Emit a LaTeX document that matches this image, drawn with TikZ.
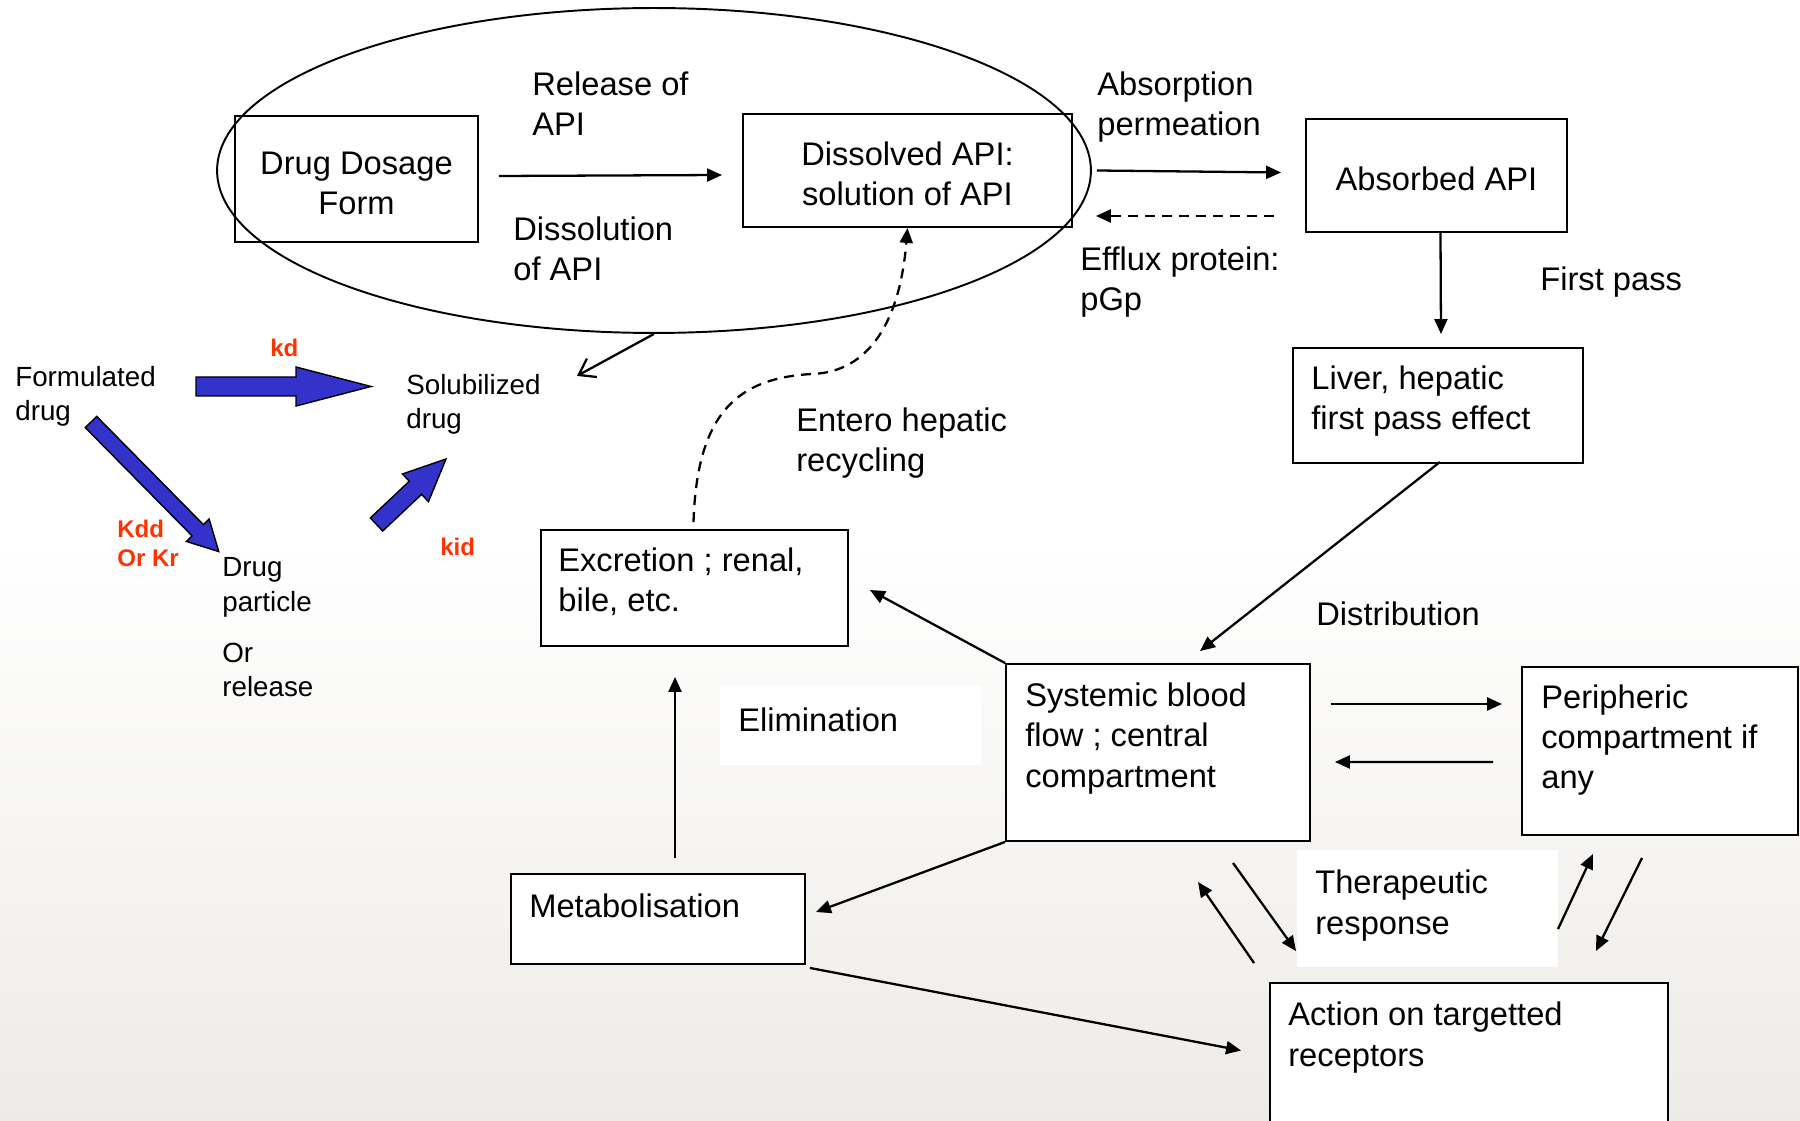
\documentclass[tikz,border=0pt]{standalone}
\usepackage{fontspec}
\setmainfont{Liberation Sans}
\usetikzlibrary{arrows.meta,calc,shapes.geometric}

\definecolor{ratered}{HTML}{FF3300}
\definecolor{arrowblue}{HTML}{3333CC}
\definecolor{bggray}{HTML}{EDEBE7}

\newcommand{\boxfont}{\fontsize{18.6}{22.8}\selectfont}
\newcommand{\smallfont}{\fontsize{15.8}{19.6}\selectfont}

% multi-line labels are placed at the baseline of their last line
\tikzset{
  box/.style={draw, line width=1.1pt, fill=white, inner sep=0pt, font=\boxfont, align=center},
  lbl/.style={font=\boxfont, align=left, inner sep=0pt, anchor=base west},
  smalllbl/.style={font=\smallfont, align=left, inner sep=0pt, anchor=base west},
  rate/.style={font=\fontsize{13.7}{17}\selectfont\bfseries, text=ratered, align=left, inner sep=0pt, anchor=base west},
  link/.style={line width=1.3pt, -{Triangle[length=0.3cm,width=0.26cm]}},
  fat/.style={fill=arrowblue, draw=black, line width=0.8pt},
}

\begin{document}
\begin{tikzpicture}[x=0.02cm, y=-0.02cm]
\useasboundingbox (0,0) rectangle (1800,1121);

% background
\shade[top color=white, bottom color=bggray] (0,540) rectangle (1800,1121);
\fill[white] (720,686) rectangle (981,765);
\fill[white] (1297,850) rectangle (1558,967);

% boxes
\node[box, minimum width=4.86cm, minimum height=2.52cm, text height=1.41cm, text depth=0cm] (dos) at (356.5,179) {Drug Dosage\\Form};
\node[box, minimum width=6.58cm, minimum height=2.26cm, text height=1.41cm, text depth=0cm] (dis) at (907.5,170.5) {Dissolved API:\\solution of API};
\node[box, minimum width=5.22cm, minimum height=2.26cm, text height=0.61cm, text depth=0cm] (abs) at (1436.5,175.5) {Absorbed API};
\node[box, minimum width=5.8cm, minimum height=2.3cm] (liver) at (1438,405.5) {};
\node[box, minimum width=6.14cm, minimum height=2.32cm] (exc) at (694.5,588) {};
\node[box, minimum width=6.08cm, minimum height=3.54cm] (sys) at (1158,752.5) {};
\node[box, minimum width=5.52cm, minimum height=3.36cm] (per) at (1660,751) {};
\node[box, minimum width=5.88cm, minimum height=1.8cm] (met) at (658,919) {};
\node[box, minimum width=7.96cm, minimum height=3.14cm] (act) at (1469,1061.5) {};

\node[draw, ellipse, line width=1.1pt, minimum width=17.48cm, minimum height=6.5cm] (cell) at (654,170.5) {};

% box texts
\node[lbl] (liver-t) at (1311,430) {Liver, hepatic\\first pass effect};
\node[lbl] (exc-t) at (558,612) {Excretion ; renal,\\bile, etc.};
\node[lbl] (sys-t) at (1025,787) {Systemic blood\\flow ; central\\compartment};
\node[lbl] (per-t) at (1541,789) {Peripheric\\compartment if\\any};
\node[lbl] (met-t) at (529,917) {Metabolisation};
\node[lbl] (act-t) at (1288,1066) {Action on targetted\\receptors};

% labels
\node[lbl] (release) at (532,136) {Release of\\API};
\node[lbl] (dissol) at (513,281) {Dissolution\\of API};
\node[lbl] (absorp) at (1097,136) {Absorption\\permeation};
\node[lbl] (efflux) at (1080,311) {Efflux protein:\\pGp};
\node[lbl] (firstpass) at (1540,291) {First pass};
\node[lbl] (distrib) at (1316,626) {Distribution};
\node[lbl] (elim) at (738,732) {Elimination};
\node[lbl] (entero) at (796,472) {Entero hepatic\\recycling};
\node[lbl] (therap) at (1315,934) {Therapeutic\\response};

% connectors
\draw[link] ($(dos.east)+(20,-3)$) -- ($(dis.west)+(-20,4.5)$);
\draw[link] ($(dis.east)+(24,0)$) -- ($(abs.west)+(-24,-3)$);
\draw[link, dash pattern=on 5.7pt off 4pt] ($(abs.west)+(-31,40.5)$) -- ($(dis.east)+(23,45.5)$);
\draw[link] ($(abs.south)+(4,0)$) -- ($(liver.north)+(3,-13)$);
\draw[link] ($(liver.south)+(2,-2)$) -- ($(sys.north)+(42,-12)$);
\draw[link] (sys.north west) -- ($(exc.east)+(21,2)$);
\draw[link] ($(met.north)+(17,-15)$) -- ($(exc.south)+(-19.5,30)$);
\draw[link] (sys.south west) -- ($(met.east)+(10,-7)$);
\draw[link] ($(met.south east)+(4,3)$) -- ($(act.west)+(-28,-11)$);
\draw[link] ($(sys.east)+(20,-48.5)$) -- ($(per.west)+(-19,-47)$);
\draw[link] ($(per.west)+(-28,11)$) -- ($(sys.east)+(24,9.5)$);
\draw[link] ($(sys.south)+(75,21)$) -- ($(act.north west)+(27,-31)$);
\draw[link] ($(act.north west)+(-15,-19)$) -- ($(sys.south)+(40,40)$);
\draw[link] ($(act.north)+(89,-53)$) -- ($(per.south)+(-67,18)$);
\draw[link] ($(per.south)+(-18,22)$) -- ($(act.north east)+(-73,-31)$);
\draw[line width=1.3pt, -{Straight Barb[length=0.3cm,width=0.42cm]}] (cell.south) -- ($(cell.south)+(-77,42)$);
\draw[link, dash pattern=on 5.7pt off 4pt] ($(exc.north)+(-1,-7)$) .. controls (697,410) and (740,378) .. (812,374)
  .. controls (870,372) and (900,320) .. (dis.south);

% dissolution kinetics
\node[smalllbl] (formul) at (15,421) {Formulated\\drug};
\node[smalllbl] (solub) at (406,429) {Solubilized\\drug};
\node[smalllbl] (particle) at (222,697) {Drug\\particle\\[0.34cm]Or\\release};
\node[rate] (kd) at (270,357) {kd};
\node[rate] (kdd) at (117,567) {Kdd\\Or Kr};
\node[rate] (kid) at (440,556) {kid};

\begin{scope}[shift={(196,386.5)}]
  \draw[fat] (0,-9.5) -- (100,-9.5) -- (100,-19.5) -- (175,0) -- (100,19.5) -- (100,9.5) -- (0,9.5) -- cycle;
\end{scope}
\begin{scope}[shift={(91,422)}, rotate=-45.4]
  \draw[fat] (0,-8) -- (152,-8) -- (152,-16) -- (182,0) -- (152,16) -- (152,8) -- (0,8) -- cycle;
\end{scope}
\begin{scope}[shift={(376.5,524.5)}, rotate=43.3]
  \draw[fat] (0,-9) -- (53.5,-9) -- (53.5,-19) -- (95.5,0) -- (53.5,19) -- (53.5,9) -- (0,9) -- cycle;
\end{scope}
\end{tikzpicture}
\end{document}
